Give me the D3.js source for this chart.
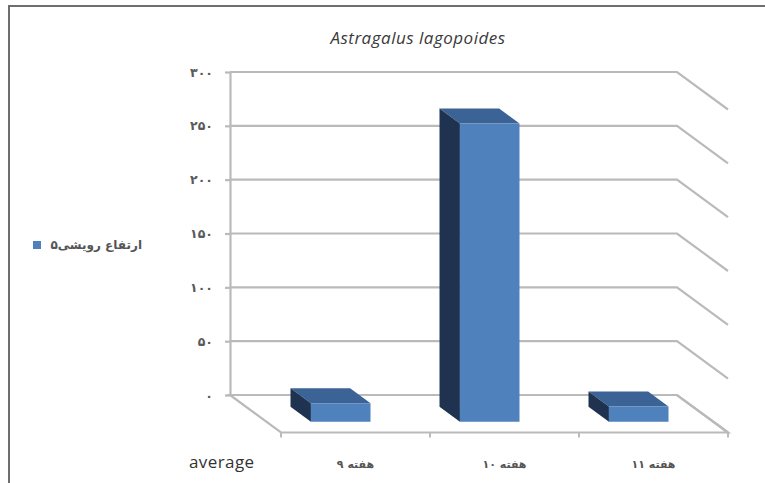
<!DOCTYPE html>
<html>
<head>
<meta charset="utf-8">
<script src="https://cdn.jsdelivr.net/npm/d3@7"></script>
<style>
  html, body { margin: 0; padding: 0; background: #fff; }
  svg { display: block; }
</style>
</head>
<body>
<svg id="chart" width="765" height="483"></svg>
<script>
// Data
const title = "Astragalus lagopoides";
const categories = ["هفته ۹", "هفته ۱۰", "هفته ۱۱"];
const values = [17, 277, 14];
const seriesName = "ارتفاع رویشی۵";
const yTicks = [0, 50, 100, 150, 200, 250, 300];
const yTickLabels = ["۰", "۵۰", "۱۰۰", "۱۵۰", "۲۰۰", "۲۵۰", "۳۰۰"];
const xAxisTitle = "average";

const svg = d3.select("#chart");

// Plot geometry (back wall plane) and oblique depth vector
const wallLeft = 230, wallRight = 677, wallTop = 72, wallBottom = 395;
const depth = { dx: 51, dy: 37.5 };
const barDepthFront = 0.71, barDepthBack = 0.31;

const x = d3.scaleBand()
  .domain(categories)
  .range([wallLeft, wallRight])
  .paddingInner(0.6)
  .paddingOuter(0.3);

const y = d3.scaleLinear()
  .domain([0, 300])
  .range([wallBottom, wallTop]);

const gridColor = "#bababa";

// Outer frame
svg.append("path")
  .attr("d", "M9,490 L9,6 L770,6")
  .attr("fill", "none")
  .attr("stroke", "#6e6e6e")
  .attr("stroke-width", 2);

// Title
svg.append("text")
  .attr("x", 418).attr("y", 44)
  .attr("text-anchor", "middle")
  .attr("font-family", "Open Sans, sans-serif")
  .attr("font-style", "italic")
  .attr("font-size", 17)
  .attr("letter-spacing", 0.5)
  .attr("fill", "#3a3a3a")
  .text(title);

// Floor
const floor = [
  [wallLeft, wallBottom],
  [wallRight, wallBottom],
  [wallRight + depth.dx, wallBottom + depth.dy],
  [wallLeft + depth.dx, wallBottom + depth.dy]
];
svg.append("path")
  .attr("d", d3.line()(floor) + "Z")
  .attr("fill", "#fff")
  .attr("stroke", gridColor)
  .attr("stroke-width", 2.2);

// Floor front ticks at category boundaries
const step = x.step();
const boundaries = d3.range(categories.length + 1).map(i => wallLeft + i * step);
svg.selectAll("line.ftick")
  .data(boundaries)
  .join("line")
  .attr("class", "ftick")
  .attr("x1", d => d + depth.dx).attr("x2", d => d + depth.dx)
  .attr("y1", wallBottom + depth.dy).attr("y2", wallBottom + depth.dy + 5)
  .attr("stroke", gridColor)
  .attr("stroke-width", 2);

// Gridlines across back wall and right side wall
svg.selectAll("path.grid")
  .data(yTicks)
  .join("path")
  .attr("class", "grid")
  .attr("d", d => d3.line()([
    [wallLeft, y(d)],
    [wallRight, y(d)],
    [wallRight + depth.dx, y(d) + depth.dy]
  ]))
  .attr("fill", "none")
  .attr("stroke", gridColor)
  .attr("stroke-width", 2.2);

// Value axis on the back wall's left edge
const yAxis = d3.axisLeft(y)
  .tickValues(yTicks)
  .tickFormat((d, i) => yTickLabels[i])
  .tickSizeInner(5)
  .tickSizeOuter(0)
  .tickPadding(12);

const yAxisG = svg.append("g")
  .attr("transform", `translate(${wallLeft},0)`)
  .call(yAxis);
yAxisG.select(".domain").attr("stroke", gridColor).attr("stroke-width", 2.2);
yAxisG.selectAll(".tick line").attr("stroke", gridColor).attr("stroke-width", 2.2);
yAxisG.selectAll(".tick text")
  .attr("font-family", "DejaVu Sans, sans-serif")
  .attr("font-size", 12.5)
  .attr("font-weight", "bold")
  .attr("letter-spacing", 3)
  .attr("fill", "#5a5a5a");

// 3D columns
const colors = { front: "#4f81bd", top: "#3b6395", side: "#1f3350" };
const bars = svg.append("g").selectAll("g.bar")
  .data(categories.map((c, i) => ({ c, v: values[i] })))
  .join("g")
  .attr("class", "bar");

function pt(xb, val, t) {
  return [xb + depth.dx * t, y(val) + depth.dy * t];
}

bars.each(function (d) {
  const g = d3.select(this);
  const x0 = x(d.c), x1 = x(d.c) + x.bandwidth();
  const tf = barDepthFront, tb = barDepthBack;
  // top face
  g.append("path")
    .attr("d", d3.line()([pt(x0, d.v, tb), pt(x1, d.v, tb), pt(x1, d.v, tf), pt(x0, d.v, tf)]) + "Z")
    .attr("fill", colors.top);
  // left side face
  g.append("path")
    .attr("d", d3.line()([pt(x0, d.v, tb), pt(x0, d.v, tf), pt(x0, 0, tf), pt(x0, 0, tb)]) + "Z")
    .attr("fill", colors.side);
  // front face
  g.append("path")
    .attr("d", d3.line()([pt(x0, d.v, tf), pt(x1, d.v, tf), pt(x1, 0, tf), pt(x0, 0, tf)]) + "Z")
    .attr("fill", colors.front);
});

// Category labels below the floor
svg.selectAll("text.cat")
  .data(categories)
  .join("text")
  .attr("class", "cat")
  .attr("x", d => x(d) + x.bandwidth() / 2 + depth.dx)
  .attr("y", 468)
  .attr("text-anchor", "middle")
  .attr("font-family", "DejaVu Sans, sans-serif")
  .attr("font-size", 11)
  .attr("font-weight", "bold")
  .attr("fill", "#555")
  .text(d => d);

// Category axis title
svg.append("text")
  .attr("x", 189).attr("y", 468)
  .attr("font-family", "Open Sans, sans-serif")
  .attr("font-size", 17)
  .attr("letter-spacing", 0.4)
  .attr("fill", "#333")
  .text(xAxisTitle);

// Legend
svg.append("rect")
  .attr("x", 33).attr("y", 241)
  .attr("width", 8).attr("height", 8)
  .attr("fill", colors.front);
svg.append("text")
  .attr("x", 142).attr("y", 249)
  .attr("text-anchor", "start")
  .attr("direction", "rtl")
  .attr("font-family", "DejaVu Sans, sans-serif")
  .attr("font-size", 12)
  .attr("font-weight", "bold")
  .attr("fill", "#555")
  .text(seriesName);
</script>
</body>
</html>
